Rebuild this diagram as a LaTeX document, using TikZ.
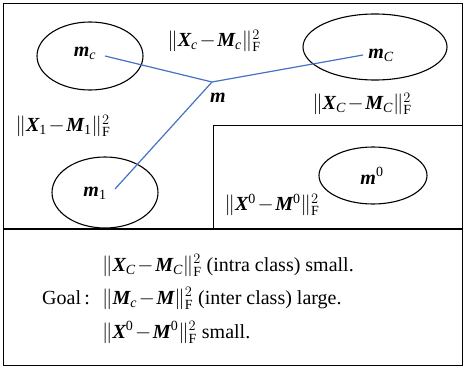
\documentclass[tikz,border=0pt]{standalone}
\usepackage{amsmath}
\usepackage{fontspec}
\setmainfont{Liberation Serif}
\usetikzlibrary{shapes.geometric}
\definecolor{linkblue}{RGB}{68,114,196}
\newcommand\Bi[1]{\text{\bfseries\itshape #1}}
\newcommand\Ti[1]{\text{\itshape #1}}
\newcommand\Tr[1]{\text{#1}}
\newcommand\Mi{\mkern1.5mu{-}\mkern1.5mu}
\newcommand\Nrm[1]{\|#1\|_{\text{F}}^{2}}
\begin{document}
\begin{tikzpicture}[x=1pt,y=-1pt,
  font=\fontsize{20}{22}\selectfont,
  frame/.style={draw=black,line width=1.3pt},
  ell/.style={draw=black,ellipse,line width=1.1pt,inner sep=0pt},
  lbl/.style={inner sep=0pt},
  link/.style={draw=linkblue,line width=1.2pt}]
\useasboundingbox (0,0) rectangle (464,372);
% frames
\draw[frame] (3.5,3.5) rectangle (462.5,365.5);
\draw[frame] (3.5,229) -- (462.5,229);
\draw[frame] (213.5,229) |- (462.5,125.5);
% ellipses
\node[ell,minimum width=106pt,minimum height=68pt] (Ec) at (90,56) {};
\node[ell,minimum width=144pt,minimum height=66pt] (EC) at (375,47) {};
\node[ell,minimum width=106pt,minimum height=71pt] (E1) at (105,192.5) {};
\node[ell,minimum width=108pt,minimum height=57pt] (E0) at (373,175.5) {};
% point labels
\node[lbl] (mc) at (85,53) {$\Bi{m}_{\Ti{c}}$};
\node[lbl] (mC) at (381,55) {$\Bi{m}_{\Ti{C}}$};
\node[lbl] (m) at (218,98) {$\Bi{m}$};
\node[lbl] (m1) at (95,193) {$\Bi{m}_{\Tr{1}}$};
\node[lbl] (m0) at (372,176) {$\Bi{m}^{\Tr{0}}$};
% connectors
\coordinate (a) at (105,56);
\coordinate (j) at (212,82);
\coordinate (b) at (363,55);
\coordinate (c) at (115,189);
\draw[link] (a) -- (j) -- (b);
\draw[link] (j) -- (c);
% norm labels
\node[lbl] (n1) at (214,41) {$\Nrm{\Bi{X}_{\Ti{c}}\Mi\Bi{M}_{\Ti{c}}}$};
\node[lbl] (n2) at (362,104) {$\Nrm{\Bi{X}_{\Ti{C}}\Mi\Bi{M}_{\Ti{C}}}$};
\node[lbl] (n3) at (63,126) {$\Nrm{\Bi{X}_{\Tr{1}}\Mi\Bi{M}_{\Tr{1}}}$};
\node[lbl] (n4) at (272,205) {$\Nrm{\Bi{X}^{\Tr{0}}\Mi\Bi{M}^{\Tr{0}}}$};
% goal text
\node[lbl,anchor=base west] (g1) at (102,271) {$\Nrm{\Bi{X}_{\Ti{C}}\Mi\Bi{M}_{\Ti{C}}}$ (intra class) small.};
\node[lbl,anchor=base west] (g2) at (102,304) {$\Nrm{\Bi{M}_{\Ti{c}}\Mi\Bi{M}}$ (inter class) large.};
\node[lbl,anchor=base west] (g3) at (102,338) {$\Nrm{\Bi{X}^{\Tr{0}}\Mi\Bi{M}^{\Tr{0}}}$ small.};
\node[lbl,anchor=base west] (goal) at (42,304) {Goal\,:};
\end{tikzpicture}
\end{document}
